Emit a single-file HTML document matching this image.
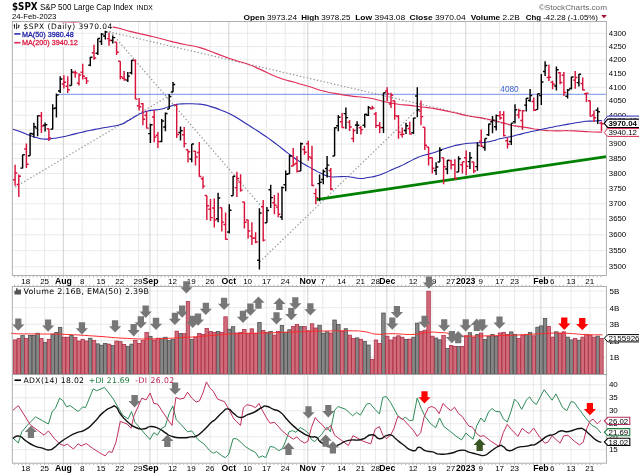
<!DOCTYPE html>
<html lang="en"><head><meta charset="utf-8"><title>$SPX S&amp;P 500 Large Cap Index</title>
<style>html,body{margin:0;padding:0;background:#fff;}svg{display:block;will-change:transform;}</style></head><body>
<svg width="639" height="476" viewBox="0 0 639 476">
<rect width="639" height="476" fill="#fff"/>
<text x="12" y="10" font-family="'DejaVu Sans', Verdana, sans-serif" font-size="9.8" font-weight="bold" textLength="25.6" lengthAdjust="spacingAndGlyphs">$SPX</text>
<text x="40" y="9.9" font-family="'Liberation Sans', Arial, sans-serif" font-size="8.7" font-weight="normal" fill="#000" text-anchor="start" textLength="92.8" lengthAdjust="spacingAndGlyphs" >S&amp;P 500 Large Cap Index</text>
<text x="136.6" y="9.8" font-family="'Liberation Sans', Arial, sans-serif" font-size="6.8" font-weight="normal" fill="#000" text-anchor="start" textLength="16.3" lengthAdjust="spacingAndGlyphs" >INDX</text>
<text x="12" y="19.2" font-family="'Liberation Sans', Arial, sans-serif" font-size="7.8" font-weight="normal" fill="#000" text-anchor="start" textLength="44.4" lengthAdjust="spacingAndGlyphs" >24-Feb-2023</text>
<text x="607" y="9.6" font-family="'Liberation Sans', Arial, sans-serif" font-size="8" font-weight="normal" fill="#666" text-anchor="end" textLength="68.3" lengthAdjust="spacingAndGlyphs" >&#169;StockCharts.com</text>
<text x="243.5" y="19.8" font-family="'Liberation Sans', Arial, sans-serif" font-size="8" textLength="53.5" lengthAdjust="spacingAndGlyphs"><tspan font-weight="bold">Open</tspan> 3973.24</text>
<text x="301.3" y="19.8" font-family="'Liberation Sans', Arial, sans-serif" font-size="8" textLength="49.1" lengthAdjust="spacingAndGlyphs"><tspan font-weight="bold">High</tspan> 3978.25</text>
<text x="355.2" y="19.8" font-family="'Liberation Sans', Arial, sans-serif" font-size="8" textLength="50" lengthAdjust="spacingAndGlyphs"><tspan font-weight="bold">Low</tspan> 3943.08</text>
<text x="409.6" y="19.8" font-family="'Liberation Sans', Arial, sans-serif" font-size="8" textLength="56.1" lengthAdjust="spacingAndGlyphs"><tspan font-weight="bold">Close</tspan> 3970.04</text>
<text x="470.8" y="19.8" font-family="'Liberation Sans', Arial, sans-serif" font-size="8" textLength="48.9" lengthAdjust="spacingAndGlyphs"><tspan font-weight="bold">Volume</tspan> 2.2B</text>
<text x="525.7" y="19.8" font-family="'Liberation Sans', Arial, sans-serif" font-size="8" textLength="72.3" lengthAdjust="spacingAndGlyphs"><tspan font-weight="bold">Chg</tspan> -42.28 (-1.05%)</text>
<polygon points="601.2,15 606.8,15 604,18.2" fill="#a01030"/>
<clipPath id="cm"><rect x="12.3" y="21.5" width="594.1" height="254"/></clipPath>
<g stroke="#e4e4e4" stroke-width="0.8" fill="none">
<path d="M25.8 21.5V275.5"/>
<path d="M44.6 21.5V275.5"/>
<path d="M82.2 21.5V275.5"/>
<path d="M101 21.5V275.5"/>
<path d="M119.8 21.5V275.5"/>
<path d="M138.6 21.5V275.5"/>
<path d="M157.4 21.5V275.5"/>
<path d="M172.4 21.5V275.5"/>
<path d="M191.2 21.5V275.5"/>
<path d="M210 21.5V275.5"/>
<path d="M247.6 21.5V275.5"/>
<path d="M266.4 21.5V275.5"/>
<path d="M285.2 21.5V275.5"/>
<path d="M304 21.5V275.5"/>
<path d="M322.8 21.5V275.5"/>
<path d="M341.6 21.5V275.5"/>
<path d="M360.4 21.5V275.5"/>
<path d="M375.5 21.5V275.5"/>
<path d="M394.3 21.5V275.5"/>
<path d="M413.1 21.5V275.5"/>
<path d="M431.9 21.5V275.5"/>
<path d="M450.7 21.5V275.5"/>
<path d="M480.8 21.5V275.5"/>
<path d="M499.6 21.5V275.5"/>
<path d="M514.6 21.5V275.5"/>
<path d="M533.4 21.5V275.5"/>
<path d="M552.2 21.5V275.5"/>
<path d="M571 21.5V275.5"/>
<path d="M589.8 21.5V275.5"/>
<path d="M12.3 266.7H606.4"/>
<path d="M12.3 250.6H606.4"/>
<path d="M12.3 234.8H606.4"/>
<path d="M12.3 219.1H606.4"/>
<path d="M12.3 203.7H606.4"/>
<path d="M12.3 188.5H606.4"/>
<path d="M12.3 173.5H606.4"/>
<path d="M12.3 158.6H606.4"/>
<path d="M12.3 144H606.4"/>
<path d="M12.3 129.6H606.4"/>
<path d="M12.3 115.3H606.4"/>
<path d="M12.3 101.2H606.4"/>
<path d="M12.3 87.3H606.4"/>
<path d="M12.3 73.6H606.4"/>
<path d="M12.3 60H606.4"/>
<path d="M12.3 46.6H606.4"/>
<path d="M12.3 33.3H606.4"/>
</g>
<g stroke="#c8c8c8" stroke-width="0.8" fill="none">
<path d="M63.4 21.5V275.5"/>
<path d="M149.9 21.5V275.5"/>
<path d="M228.8 21.5V275.5"/>
<path d="M307.8 21.5V275.5"/>
<path d="M386.8 21.5V275.5"/>
<path d="M465.7 21.5V275.5"/>
<path d="M540.9 21.5V275.5"/>
</g>
<g clip-path="url(#cm)">
<path d="M58 94.3H606.4" stroke="#5b7fe0" stroke-width="0.85" fill="none"/>
<path d="M15.2 187L173.2 93.3" stroke="#8c8c8c" stroke-width="1.15" fill="none" stroke-dasharray="1.3 2.2"/>
<path d="M105.5 26.2L260.5 205.5" stroke="#8c8c8c" stroke-width="1.15" fill="none" stroke-dasharray="1.3 2.2"/>
<path d="M259.8 261.8L417.9 109.1" stroke="#8c8c8c" stroke-width="1.15" fill="none" stroke-dasharray="1.3 2.2"/>
<path d="M105.5 31L523 128" stroke="#8c8c8c" stroke-width="1.15" fill="none" stroke-dasharray="1.3 2.2"/>
<path d="M12 17C25.67 18.43 33.67 19.53 53 21.3C72.33 23.07 57.67 21.27 70 22.3C82.33 23.33 75.70 22.80 90 24.4C104.30 26.00 99.57 24.77 112.9 27.1C126.23 29.43 117.10 28.30 130 31.4C142.90 34.50 139.93 33.63 151.6 36.4C163.27 39.17 156.37 37.53 165 39.7C173.63 41.87 169.50 41.03 177.5 42.9C185.50 44.77 181.50 43.73 189 45.3C196.50 46.87 190.60 44.73 200 47.6C209.40 50.47 205.73 49.77 217.2 53.9C228.67 58.03 224.07 56.53 234.4 60C244.73 63.47 239.60 61.17 248.2 64.3C256.80 67.43 250.43 65.10 260.2 69.4C269.97 73.70 266.00 72.90 277.5 77.2C289.00 81.50 287.20 80.03 294.7 82.3C302.20 84.57 294.90 82.50 300 84C305.10 85.50 302.53 84.53 310 86.8C317.47 89.07 314.07 88.60 322.4 90.8C330.73 93.00 326.40 91.80 335 93.4C343.60 95.00 340.53 94.47 348.2 95.6C355.87 96.73 351.13 96.00 358 96.8C364.87 97.60 362.13 96.93 368.8 98C375.47 99.07 372.23 98.67 378 100C383.77 101.33 379.43 100.60 386.1 102C392.77 103.40 390.03 103.07 398 104.2C405.97 105.33 402.00 104.47 410 105.4C418.00 106.33 413.87 105.93 422 107C430.13 108.07 424.73 106.93 434.4 108.6C444.07 110.27 439.53 109.53 451 112C462.47 114.47 459.13 114.13 468.8 116C478.47 117.87 473.10 116.40 480 117.6C486.90 118.80 484.43 118.53 489.5 119.6C494.57 120.67 490.70 119.70 495.2 120.8C499.70 121.90 497.53 121.43 503 122.9C508.47 124.37 506.87 124.13 511.6 125.2C516.33 126.27 513.43 125.53 517.2 126.1C520.97 126.67 517.63 126.03 522.9 126.9C528.17 127.77 526.30 127.60 533 128.7C539.70 129.80 536.80 129.50 543 130.2C549.20 130.90 545.93 130.60 551.6 130.8C557.27 131.00 554.27 130.83 560 130.8C565.73 130.77 562.80 130.60 568.8 130.7C574.80 130.80 572.27 130.80 578 131.1C583.73 131.40 580.67 131.30 586 131.6C591.33 131.90 588.83 131.80 594 132C599.17 132.20 599.00 132.13 601.5 132.2" fill="none" stroke="#de3058" stroke-width="1.15" stroke-linejoin="round" stroke-linecap="round"/>
<path d="M12.8 129.2C15.20 129.97 14.27 129.40 20 131.5C25.73 133.60 24.00 133.33 30 135.5C36.00 137.67 33.00 136.80 38 138C43.00 139.20 39.67 139.00 45 139.1C50.33 139.20 47.97 139.07 54 138.3C60.03 137.53 57.10 138.03 63.1 136.8C69.10 135.57 65.70 136.13 72 134.6C78.30 133.07 75.67 133.67 82 132.2C88.33 130.73 84.67 131.53 91 130.2C97.33 128.87 94.67 129.33 101 128.2C107.33 127.07 103.43 128.07 110 126.8C116.57 125.53 114.70 126.40 120.7 124.4C126.70 122.40 122.90 123.60 128 120.8C133.10 118.00 131.00 118.80 136 116C141.00 113.20 138.00 114.27 143 112.4C148.00 110.53 145.27 111.43 151 110.4C156.73 109.37 154.53 110.43 160.2 109.3C165.87 108.17 162.83 108.57 168 107C173.17 105.43 171.03 105.63 175.7 104.6C180.37 103.57 177.40 104.17 182 103.9C186.60 103.63 184.50 103.77 189.5 103.8C194.50 103.83 192.40 103.73 197 104C201.60 104.27 198.97 103.80 203.3 104.6C207.63 105.40 204.43 104.67 210 106.4C215.57 108.13 212.67 106.93 220 109.8C227.33 112.67 223.67 110.60 232 115C240.33 119.40 236.97 118.00 245 123C253.03 128.00 249.77 125.90 256.1 130C262.43 134.10 258.53 131.57 264 135.3C269.47 139.03 266.50 136.80 272.5 141.2C278.50 145.60 275.70 143.63 282 148.5C288.30 153.37 285.40 151.37 291.4 155.8C297.40 160.23 295.13 158.63 300 161.8C304.87 164.97 301.40 162.70 306 165.3C310.60 167.90 308.80 166.93 313.8 169.6C318.80 172.27 315.83 171.00 321 173.3C326.17 175.60 323.97 175.33 329.3 176.5C334.63 177.67 331.87 176.80 337 176.8C342.13 176.80 339.70 176.33 344.7 176.5C349.70 176.67 346.83 176.63 352 177.3C357.17 177.97 354.87 178.43 360.2 178.5C365.53 178.57 362.83 178.30 368 177.5C373.17 176.70 370.37 177.50 375.7 176.1C381.03 174.70 378.27 175.60 384 173.3C389.73 171.00 387.57 171.53 392.9 169.2C398.23 166.87 394.97 168.60 400 166.3C405.03 164.00 402.27 165.17 408 162.3C413.73 159.43 411.53 160.13 417.2 157.7C422.87 155.27 419.27 156.73 425 155C430.73 153.27 428.40 154.40 434.4 152.5C440.40 150.60 437.27 151.30 443 149.3C448.73 147.30 445.93 148.07 451.6 146.5C457.27 144.93 454.27 145.67 460 144.6C465.73 143.53 462.80 143.90 468.8 143.3C474.80 142.70 472.27 143.17 478 142.8C483.73 142.43 481.00 142.87 486 142.2C491.00 141.53 488.40 141.93 493 140.8C497.60 139.67 494.13 140.13 499.8 138.8C505.47 137.47 503.93 138.13 510 136.8C516.07 135.47 512.17 136.23 518 134.8C523.83 133.37 520.17 134.17 527.5 132.5C534.83 130.83 531.97 131.53 540 129.8C548.03 128.07 544.27 128.80 551.6 127.3C558.93 125.80 555.10 126.57 562 125.3C568.90 124.03 566.30 124.53 572.3 123.5C578.30 122.47 575.43 122.93 580 122.2C584.57 121.47 581.33 121.70 586 121.3C590.67 120.90 588.83 121.27 594 121C599.17 120.73 599.00 120.67 601.5 120.5" fill="none" stroke="#2b2bb0" stroke-width="1.1" stroke-linejoin="round" stroke-linecap="round"/>
<path d="M316.4 199.6L606.4 156.6" stroke="#008000" stroke-width="2.8" fill="none"/>
<path d="M22.6 154.8V168.4M20.4 168.1H22.6M22.6 154.8H24.8M30.1 132.7V155.7M27.9 155.7H30.1M30.1 133.4H32.3M33.9 122.7V137.6M31.7 133.9H33.9M33.9 126.7H36.1M37.6 115.6V136.2M35.4 128.1H37.6M37.6 115.6H39.8M45.1 122.4V131.6M42.9 125.3H45.1M45.1 124.7H47.3M52.7 104.3V129.3M50.5 129.3H52.7M52.7 108.6H54.9M56.4 93.4V117.6M54.2 108H56.4M56.4 95H58.6M60.2 76.3V93.1M58 90.9H60.2M60.2 79H62.4M71.5 68.9V85.4M69.3 85.4H71.5M71.5 72.1H73.7M90.3 57V66.2M88.1 65.1H90.3M90.3 57.2H92.5M97.8 38.6V54.9M95.6 53.3H97.8M97.8 38.5H100M101.5 33V45M99.3 41.5H101.5M101.5 34.1H103.7M105.3 26.7V39.4M103.1 35.9H105.3M105.3 31.9H107.5M112.8 35.4V43.6M110.6 40.4H112.8M112.8 37.6H115M127.8 71.9V82.1M125.6 80.1H127.8M127.8 76.1H130M131.6 60V74.4M129.4 72.7H131.6M131.6 60.2H133.8M150.4 123.8V143.1M148.2 133.6H150.4M150.4 124.7H152.6M161.7 119V142.3M159.5 141.4H161.7M161.7 121H163.9M165.4 112.5V131.3M163.2 127H165.4M165.4 113.5H167.6M169.2 94V109.1M167 109.1H169.2M169.2 96.4H171.4M173 82.1V92M170.8 92H173M173 84.4H175.2M180.5 126.4V140.5M178.3 132.4H180.5M180.5 130.7H182.7M191.7 144V162.2M189.5 158.9H191.7M191.7 144H193.9M218.1 192.7V222.2M215.9 218.8H218.1M218.1 197.9H220.3M229.3 204.3V233.5M227.1 231.9H229.3M229.3 210.3H231.5M233.1 176.1V195.8M230.9 195.8H233.1M233.1 176.2H235.3M259.4 208.3V269.4M257.2 260.2H259.4M259.4 212.9H261.6M266.9 207.1V222.8M264.7 222.8H266.9M266.9 210.5H269.1M270.7 184.8V208M268.5 189.7H270.7M270.7 197.6H272.9M282 186.4V220M279.8 216.9H282M282 187.6H284.2M285.7 170.5V191.2M283.5 184.8H285.7M285.7 174.2H287.9M289.5 155.1V173.8M287.3 173.8H289.5M289.5 156H291.7M300.8 142.5V171.1M298.6 171.1H300.8M300.8 143.7H303M319.6 174.6V201.2M317.4 183.6H319.6M319.6 182.3H321.8M323.3 169.6V184.2M321.1 179.4H323.3M323.3 171.4H325.5M327.1 156V177.6M324.9 168.4H327.1M327.1 165.1H329.3M334.6 127.3V156M332.4 156H334.6M334.6 127.7H336.8M338.3 115V131.3M336.1 125.8H338.3M338.3 117.3H340.5M345.9 107.4V128.7M343.7 113.6H345.9M345.9 117.6H348.1M357.1 121.3V133.9M354.9 125H357.1M357.1 125.2H359.3M364.7 113.9V127.8M362.5 125.3H364.7M364.7 114.3H366.9M368.4 106V115.9M366.2 115.3H368.4M368.4 107.6H370.6M383.5 92.8V133M381.3 127.6H383.5M383.5 92.8H385.7M406 122.7V133.9M403.8 130.4H406M406 125.7H408.2M413.5 118.1V133.9M411.3 132.7H413.5M413.5 118H415.7M417.3 87.3V117.3M415.1 95.9H417.3M417.3 109.7H419.5M436.1 162.2V174.9M433.9 170.5H436.1M436.1 167H438.3M439.8 147.2V161.9M437.6 161.9H439.8M439.8 150.3H442M447.4 160.1V174.3M445.2 169H447.4M447.4 160.2H449.6M458.6 156.3V172M456.4 172H458.6M458.6 158.8H460.8M469.9 151.9V169M467.7 161.6H469.9M469.9 157.8H472.1M477.4 142.3V170.8M475.2 166.6H477.4M477.4 145.4H479.6M484.9 138.5V150.7M482.7 147.5H484.9M484.9 138.4H487.1M488.7 123.8V135.9M486.5 134.7H488.7M488.7 123.9H490.9M492.5 116.1V133.3M490.3 121.8H492.5M492.5 120.1H494.7M496.2 114.4V130.4M494 126.7H496.2M496.2 115.6H498.4M511.3 123.3V144.9M509.1 141.4H511.3M511.3 123.1H513.5M515 104.3V123.5M512.8 121.6H515M515 109.7H517.2M526.3 98.1V111.6M524.1 105.1H526.3M526.3 98.3H528.5M530.1 89V101.8M527.9 100.4H530.1M530.1 95.5H532.3M537.6 93.7V109.6M535.4 109.6H537.6M537.6 93.8H539.8M541.3 74.1V104.9M539.1 95.6H541.3M541.3 82H543.5M545.1 61.3V76M542.9 71.4H545.1M545.1 65.5H547.3M556.4 66.5V90.6M554.2 85.9H556.4M556.4 69.7H558.6M567.6 89V98.4M565.4 96.2H567.6M567.6 89.9H569.8M571.4 76.8V89.5M569.2 88.4H571.4M571.4 77H573.6M578.9 74.1V86.5M576.7 82.6H578.9M578.9 74.2H581.1M597.7 107.4V124.1M595.5 110.2H597.7M597.7 111.8H599.9" stroke="#000000" stroke-width="1.45" fill="none"/>
<path d="M15.1 164.8V185.8M12.9 179.7H15.1M15.1 172.9H17.3M18.8 174.6V197.1M16.6 184.5H18.8M18.8 176.3H21M26.4 143.4V168.1M24.2 149H26.4M26.4 164.3H28.6M41.4 111.9V133M39.2 115.9H41.4M41.4 126.2H43.6M48.9 128.7V141.1M46.7 128.7H48.9M48.9 137.9H51.1M63.9 75.2V88.4M61.7 84H63.9M63.9 82.2H66.1M67.7 76.3V93.1M65.5 86.2H67.7M67.7 89.7H69.9M75.2 70.6V77.7M73 72.5H75.2M75.2 73H77.4M79 73.3V85.4M76.8 83.2H79M79 74.9H81.2M82.7 63.8V79.6M80.5 72.2H82.7M82.7 76.3H84.9M86.5 77.1V84M84.3 78.2H86.5M86.5 81.1H88.7M94 44.7V59.7M91.8 52.7H94M94 58H96.2M109 32.8V45.8M106.8 38.6H109M109 40.2H111.2M116.6 42.3V55.1M114.4 42.3H116.6M116.6 52.3H118.8M120.3 61.3V79.3M118.1 61.3H120.3M120.3 76.8H122.5M124.1 71.1V80.7M121.9 78.2H124.1M124.1 79.4H126.3M135.4 59.2V99.3M133.2 60.5H135.4M135.4 99.1H137.6M139.1 97.9V110.5M136.9 105.7H139.1M139.1 106.7H141.3M142.9 102.9V125.3M140.7 103.7H142.9M142.9 119.2H145.1M146.6 111.1V128.4M144.4 115.3H146.6M146.6 128.1H148.8M154.2 110.2V142.3M152 117H154.2M154.2 137H156.4M157.9 131.9V148.1M155.7 135.3H157.9M157.9 141.6H160.1M176.7 104.9V137.9M174.5 104.9H176.7M176.7 134.5H178.9M184.2 127V147.5M182 134.7H184.2M184.2 143.6H186.4M188 149.8V162.5M185.8 149.8H188M188 151.8H190.2M195.5 151V165.4M193.3 151.3H195.5M195.5 156.9H197.7M199.3 142V176.7M197.1 152.5H199.3M199.3 176.5H201.5M203 176.4V188.8M200.8 178.8H203M203 186.1H205.2M206.8 195.4V220M204.6 195.4H206.8M206.8 205.8H209M210.5 199.1V221M208.3 209.2H210.5M210.5 217.6H212.7M214.3 198.5V227.5M212.1 208H214.3M214.3 220H216.5M221.8 207.7V231.6M219.6 207.7H221.8M221.8 222.1H224M225.6 212.6V239.8M223.4 224.4H225.6M225.6 239.3H227.8M236.9 171.7V197M234.7 187.6H236.9M236.9 178.5H239.1M240.6 174.3V191.8M238.4 182.1H240.6M240.6 190.1H242.8M244.4 201.9V228.5M242.2 201.9H244.4M244.4 222.3H246.6M248.1 219.7V238.5M245.9 220H248.1M248.1 230.9H250.3M251.9 222.2V244.9M249.7 236.3H251.9M251.9 238.3H254.1M255.6 232.2V243.3M253.4 237.9H255.6M255.6 242H257.8M263.2 200V241.4M261 206.8H263.2M263.2 240.1H265.4M274.4 195.1V214.2M272.2 202.8H274.4M274.4 205.2H276.6M278.2 192.7V217.3M276 207.1H278.2M278.2 214.2H280.4M293.2 148.1V166.3M291 166H293.2M293.2 164.4H295.4M297 156V172.6M294.8 163.4H297M297 171.3H299.2M304.5 146V154.8M302.3 149.5H304.5M304.5 152.2H306.7M308.3 140.8V160.7M306.1 143.7H308.3M308.3 156.8H310.5M312 145.7V186.1M309.8 158H312M312 185.5H314.2M315.8 188.5V204.3M313.6 193.6H315.8M315.8 197.6H318M330.8 168.1V190.3M328.6 170.5H330.8M330.8 188.9H333M342.1 113V127.8M339.9 121.8H342.1M342.1 127.5H344.3M349.6 120.1V131M347.4 122.1H349.6M349.6 127H351.8M353.4 128.4V142.3M351.2 138.5H353.4M353.4 130.5H355.6M360.9 126.1V134.4M358.7 127.8H360.9M360.9 129.6H363.1M372.2 105.7V109.6M370 108.8H372.2M372.2 107.9H374.4M375.9 111.9V128.1M373.7 113.9H375.9M375.9 125.6H378.1M379.7 122.1V133.3M377.5 125.5H379.7M379.7 127.4H381.9M387.2 87.3V101.2M385 90.9H387.2M387.2 93.8H389.4M391 92.8V108M388.8 104H391M391 95.2H393.2M394.7 100.7V119.8M392.5 100.7H394.7M394.7 115.6H396.9M398.5 115V138.8M396.3 116.4H398.5M398.5 132.1H400.7M402.2 127.6V137.6M400.1 134.4H402.2M402.2 134.2H404.4M409.8 121.8V134.4M407.6 128.4H409.8M409.8 134.1H412M421 100.4V125.3M418.8 111.1H421M421 116.6H423.2M424.8 127.3V150.1M422.6 127.3H424.8M424.8 145.2H427M428.6 146.9V165.4M426.4 146.9H428.6M428.6 157.9H430.8M432.3 157.5V173.5M430.1 157.7H432.3M432.3 168.2H434.5M443.6 157.7V184.2M441.4 157.7H443.6M443.6 166.8H445.8M451.1 159.8V169.6M448.9 160.7H451.1M451.1 164.8H453.3M454.9 159.2V179.4M452.7 164.8H454.9M454.9 178.5H457.1M462.4 161.9V173.5M460.2 164.8H462.4M462.4 161.7H464.6M466.2 150.4V175.2M464 157.7H466.2M466.2 166.3H468.4M473.7 161.9V172.9M471.5 161.9H473.7M473.7 171H475.9M481.2 129.6V146.9M479 141.1H481.2M481.2 146.3H483.4M500 111.1V119.8M497.8 115.6H500M500 117.9H502.2M503.7 111.3V136.5M501.5 114.7H503.7M503.7 135.6H505.9M507.5 137.6V148.4M505.3 140.8H507.5M507.5 144.3H509.7M518.8 108.8V118.4M516.6 115H518.8M518.8 110.5H521M522.5 109.9V129.8M520.3 120.4H522.5M522.5 110.7H524.7M533.8 97.6V111.1M531.6 101.5H533.8M533.8 110.3H536M548.9 64.8V81M546.7 77.4H548.9M548.9 77.3H551.1M552.6 80.7V89.2M550.4 82.1H552.6M552.6 84.2H554.8M560.1 71.9V84.3M557.9 72.7H560.1M560.1 82.4H562.3M563.9 71.9V95.9M561.7 75.2H563.9M563.9 92.4H566.1M575.2 71.1V88.7M573 80.1H575.2M575.2 77.4H577.4M582.7 77.4V90.3M580.5 83.4H582.7M582.7 90H584.9M586.4 92.6V102.1M584.2 93.7H586.4M586.4 93.1H588.6M590.2 100.7V116.7M588 100.7H590.2M590.2 116.1H592.4M594 110.5V122.1M591.8 115H594M594 117.8H596.2M601.5 121.5V131.5M599.3 122.9H601.5M601.5 123.8H603.7" stroke="#d9143c" stroke-width="1.45" fill="none"/>
</g>
<rect x="12.3" y="21.5" width="594.1" height="254" fill="none" stroke="#a6a6a6" stroke-width="0.9"/>
<text x="500.3" y="92.4" font-family="'Liberation Sans', Arial, sans-serif" font-size="8.6" font-weight="normal" fill="#3a5fd0" text-anchor="start" textLength="18.4" lengthAdjust="spacingAndGlyphs" >4080</text>
<rect x="13" y="22.6" width="99.6" height="8.2" fill="#fff"/>
<rect x="13" y="30.8" width="61.5" height="7.6" fill="#fff"/>
<rect x="13" y="38.4" width="66" height="8.2" fill="#fff"/>
<path d="M14.5 24.2V28.6M16.6 23.2V29.2M18.7 24.8V28.2M13.6 25.5H14.5M16.6 27.6H17.5M18.7 25.6H19.6" stroke="#000" stroke-width="0.8" fill="none"/>
<text x="23.6" y="29.1" font-family="'DejaVu Sans', Verdana, sans-serif" font-size="7.5" font-weight="normal" fill="#000" text-anchor="start" textLength="88.7" lengthAdjust="spacing" >$SPX (Daily) 3970.04</text>
<path d="M14.3 33.9H20.5" stroke="#2b2bb0" stroke-width="1.6"/>
<text x="22" y="36.6" font-family="'Liberation Sans', Arial, sans-serif" font-size="7.4" font-weight="normal" fill="#2424a8" text-anchor="start" textLength="51.7" lengthAdjust="spacingAndGlyphs" stroke="#2424a8" stroke-width="0.3">MA(50) 3980.48</text>
<path d="M14.3 42.7H20.5" stroke="#dc2850" stroke-width="1.6"/>
<text x="22" y="45.4" font-family="'Liberation Sans', Arial, sans-serif" font-size="7.4" font-weight="normal" fill="#dc1e46" text-anchor="start" textLength="55.7" lengthAdjust="spacingAndGlyphs" stroke="#dc1e46" stroke-width="0.3">MA(200) 3940.12</text>
<text x="608.8" y="268.9" font-family="'Liberation Sans', Arial, sans-serif" font-size="8" font-weight="normal" fill="#000" text-anchor="start" textLength="17.4" lengthAdjust="spacingAndGlyphs" >3500</text>
<text x="608.8" y="252.8" font-family="'Liberation Sans', Arial, sans-serif" font-size="8" font-weight="normal" fill="#000" text-anchor="start" textLength="17.4" lengthAdjust="spacingAndGlyphs" >3550</text>
<text x="608.8" y="237" font-family="'Liberation Sans', Arial, sans-serif" font-size="8" font-weight="normal" fill="#000" text-anchor="start" textLength="17.4" lengthAdjust="spacingAndGlyphs" >3600</text>
<text x="608.8" y="221.3" font-family="'Liberation Sans', Arial, sans-serif" font-size="8" font-weight="normal" fill="#000" text-anchor="start" textLength="17.4" lengthAdjust="spacingAndGlyphs" >3650</text>
<text x="608.8" y="205.9" font-family="'Liberation Sans', Arial, sans-serif" font-size="8" font-weight="normal" fill="#000" text-anchor="start" textLength="17.4" lengthAdjust="spacingAndGlyphs" >3700</text>
<text x="608.8" y="190.7" font-family="'Liberation Sans', Arial, sans-serif" font-size="8" font-weight="normal" fill="#000" text-anchor="start" textLength="17.4" lengthAdjust="spacingAndGlyphs" >3750</text>
<text x="608.8" y="175.7" font-family="'Liberation Sans', Arial, sans-serif" font-size="8" font-weight="normal" fill="#000" text-anchor="start" textLength="17.4" lengthAdjust="spacingAndGlyphs" >3800</text>
<text x="608.8" y="160.8" font-family="'Liberation Sans', Arial, sans-serif" font-size="8" font-weight="normal" fill="#000" text-anchor="start" textLength="17.4" lengthAdjust="spacingAndGlyphs" >3850</text>
<text x="608.8" y="146.2" font-family="'Liberation Sans', Arial, sans-serif" font-size="8" font-weight="normal" fill="#000" text-anchor="start" textLength="17.4" lengthAdjust="spacingAndGlyphs" >3900</text>
<text x="608.8" y="131.8" font-family="'Liberation Sans', Arial, sans-serif" font-size="8" font-weight="normal" fill="#000" text-anchor="start" textLength="17.4" lengthAdjust="spacingAndGlyphs" >3950</text>
<text x="608.8" y="117.5" font-family="'Liberation Sans', Arial, sans-serif" font-size="8" font-weight="normal" fill="#000" text-anchor="start" textLength="17.4" lengthAdjust="spacingAndGlyphs" >4000</text>
<text x="608.8" y="103.4" font-family="'Liberation Sans', Arial, sans-serif" font-size="8" font-weight="normal" fill="#000" text-anchor="start" textLength="17.4" lengthAdjust="spacingAndGlyphs" >4050</text>
<text x="608.8" y="89.5" font-family="'Liberation Sans', Arial, sans-serif" font-size="8" font-weight="normal" fill="#000" text-anchor="start" textLength="17.4" lengthAdjust="spacingAndGlyphs" >4100</text>
<text x="608.8" y="75.8" font-family="'Liberation Sans', Arial, sans-serif" font-size="8" font-weight="normal" fill="#000" text-anchor="start" textLength="17.4" lengthAdjust="spacingAndGlyphs" >4150</text>
<text x="608.8" y="62.2" font-family="'Liberation Sans', Arial, sans-serif" font-size="8" font-weight="normal" fill="#000" text-anchor="start" textLength="17.4" lengthAdjust="spacingAndGlyphs" >4200</text>
<text x="608.8" y="48.8" font-family="'Liberation Sans', Arial, sans-serif" font-size="8" font-weight="normal" fill="#000" text-anchor="start" textLength="17.4" lengthAdjust="spacingAndGlyphs" >4250</text>
<text x="608.8" y="35.5" font-family="'Liberation Sans', Arial, sans-serif" font-size="8" font-weight="normal" fill="#000" text-anchor="start" textLength="17.4" lengthAdjust="spacingAndGlyphs" >4300</text>
<path d="M604.2 120.3L607.6 116.1H639.5V124.5H607.6Z" fill="#fff" stroke="#2b2bb0" stroke-width="1.0"/>
<text x="608.4" y="123.2" font-family="'Liberation Sans', Arial, sans-serif" font-size="8" font-weight="normal" fill="#2b2bb0" text-anchor="start" textLength="28.6" lengthAdjust="spacingAndGlyphs" >3980.48</text>
<path d="M604.2 132.5L607.6 128.6H639.5V136.4H607.6Z" fill="#fff" stroke="#dc2850" stroke-width="1.0"/>
<text x="608.4" y="135.4" font-family="'Liberation Sans', Arial, sans-serif" font-size="8" font-weight="normal" fill="#000" text-anchor="start" textLength="28.6" lengthAdjust="spacingAndGlyphs" >3940.12</text>
<path d="M604.2 123.3L607.6 119.1H639.5V127.5H607.6Z" fill="#fff" stroke="#000" stroke-width="1.2"/>
<text x="608.4" y="126.2" font-family="'Liberation Sans', Arial, sans-serif" font-size="8" font-weight="bold" fill="#000" text-anchor="start" textLength="28.6" lengthAdjust="spacingAndGlyphs" >3970.04</text>
<path d="M14.5 276V277.4M18.3 276V277.4M22 276V277.4M25.8 276V277.4M29.6 276V277.4M33.3 276V277.4M37.1 276V277.4M40.8 276V277.4M44.6 276V277.4M48.4 276V277.4M52.1 276V277.4M55.9 276V277.4M59.6 276V277.4M63.4 276V277.4M67.1 276V277.4M70.9 276V277.4M74.7 276V277.4M78.4 276V277.4M82.2 276V277.4M85.9 276V277.4M89.7 276V277.4M93.5 276V277.4M97.2 276V277.4M101 276V277.4M104.7 276V277.4M108.5 276V277.4M112.3 276V277.4M116 276V277.4M119.8 276V277.4M123.5 276V277.4M127.3 276V277.4M131.1 276V277.4M134.8 276V277.4M138.6 276V277.4M142.3 276V277.4M146.1 276V277.4M149.8 276V277.4M153.6 276V277.4M157.4 276V277.4M161.1 276V277.4M164.9 276V277.4M168.6 276V277.4M172.4 276V277.4M176.2 276V277.4M179.9 276V277.4M183.7 276V277.4M187.4 276V277.4M191.2 276V277.4M195 276V277.4M198.7 276V277.4M202.5 276V277.4M206.2 276V277.4M210 276V277.4M213.7 276V277.4M217.5 276V277.4M221.3 276V277.4M225 276V277.4M228.8 276V277.4M232.5 276V277.4M236.3 276V277.4M240.1 276V277.4M243.8 276V277.4M247.6 276V277.4M251.3 276V277.4M255.1 276V277.4M258.9 276V277.4M262.6 276V277.4M266.4 276V277.4M270.1 276V277.4M273.9 276V277.4M277.7 276V277.4M281.4 276V277.4M285.2 276V277.4M288.9 276V277.4M292.7 276V277.4M296.4 276V277.4M300.2 276V277.4M304 276V277.4M307.7 276V277.4M311.5 276V277.4M315.2 276V277.4M319 276V277.4M322.8 276V277.4M326.5 276V277.4M330.3 276V277.4M334 276V277.4M337.8 276V277.4M341.6 276V277.4M345.3 276V277.4M349.1 276V277.4M352.8 276V277.4M356.6 276V277.4M360.4 276V277.4M364.1 276V277.4M367.9 276V277.4M371.6 276V277.4M375.4 276V277.4M379.1 276V277.4M382.9 276V277.4M386.7 276V277.4M390.4 276V277.4M394.2 276V277.4M397.9 276V277.4M401.7 276V277.4M405.5 276V277.4M409.2 276V277.4M413 276V277.4M416.7 276V277.4M420.5 276V277.4M424.3 276V277.4M428 276V277.4M431.8 276V277.4M435.5 276V277.4M439.3 276V277.4M443 276V277.4M446.8 276V277.4M450.6 276V277.4M454.3 276V277.4M458.1 276V277.4M461.8 276V277.4M465.6 276V277.4M469.4 276V277.4M473.1 276V277.4M476.9 276V277.4M480.6 276V277.4M484.4 276V277.4M488.2 276V277.4M491.9 276V277.4M495.7 276V277.4M499.4 276V277.4M503.2 276V277.4M507 276V277.4M510.7 276V277.4M514.5 276V277.4M518.2 276V277.4M522 276V277.4M525.7 276V277.4M529.5 276V277.4M533.3 276V277.4M537 276V277.4M540.8 276V277.4M544.5 276V277.4M548.3 276V277.4M552.1 276V277.4M555.8 276V277.4M559.6 276V277.4M563.3 276V277.4M567.1 276V277.4M570.9 276V277.4M574.6 276V277.4M578.4 276V277.4M582.1 276V277.4M585.9 276V277.4M589.7 276V277.4M593.4 276V277.4M597.2 276V277.4M600.9 276V277.4" stroke="#b0b0b0" stroke-width="0.9" fill="none"/>
<path d="M14.5 284.8V286.2M18.3 284.8V286.2M22 284.8V286.2M25.8 284.8V286.2M29.6 284.8V286.2M33.3 284.8V286.2M37.1 284.8V286.2M40.8 284.8V286.2M44.6 284.8V286.2M48.4 284.8V286.2M52.1 284.8V286.2M55.9 284.8V286.2M59.6 284.8V286.2M63.4 284.8V286.2M67.1 284.8V286.2M70.9 284.8V286.2M74.7 284.8V286.2M78.4 284.8V286.2M82.2 284.8V286.2M85.9 284.8V286.2M89.7 284.8V286.2M93.5 284.8V286.2M97.2 284.8V286.2M101 284.8V286.2M104.7 284.8V286.2M108.5 284.8V286.2M112.3 284.8V286.2M116 284.8V286.2M119.8 284.8V286.2M123.5 284.8V286.2M127.3 284.8V286.2M131.1 284.8V286.2M134.8 284.8V286.2M138.6 284.8V286.2M142.3 284.8V286.2M146.1 284.8V286.2M149.8 284.8V286.2M153.6 284.8V286.2M157.4 284.8V286.2M161.1 284.8V286.2M164.9 284.8V286.2M168.6 284.8V286.2M172.4 284.8V286.2M176.2 284.8V286.2M179.9 284.8V286.2M183.7 284.8V286.2M187.4 284.8V286.2M191.2 284.8V286.2M195 284.8V286.2M198.7 284.8V286.2M202.5 284.8V286.2M206.2 284.8V286.2M210 284.8V286.2M213.7 284.8V286.2M217.5 284.8V286.2M221.3 284.8V286.2M225 284.8V286.2M228.8 284.8V286.2M232.5 284.8V286.2M236.3 284.8V286.2M240.1 284.8V286.2M243.8 284.8V286.2M247.6 284.8V286.2M251.3 284.8V286.2M255.1 284.8V286.2M258.9 284.8V286.2M262.6 284.8V286.2M266.4 284.8V286.2M270.1 284.8V286.2M273.9 284.8V286.2M277.7 284.8V286.2M281.4 284.8V286.2M285.2 284.8V286.2M288.9 284.8V286.2M292.7 284.8V286.2M296.4 284.8V286.2M300.2 284.8V286.2M304 284.8V286.2M307.7 284.8V286.2M311.5 284.8V286.2M315.2 284.8V286.2M319 284.8V286.2M322.8 284.8V286.2M326.5 284.8V286.2M330.3 284.8V286.2M334 284.8V286.2M337.8 284.8V286.2M341.6 284.8V286.2M345.3 284.8V286.2M349.1 284.8V286.2M352.8 284.8V286.2M356.6 284.8V286.2M360.4 284.8V286.2M364.1 284.8V286.2M367.9 284.8V286.2M371.6 284.8V286.2M375.4 284.8V286.2M379.1 284.8V286.2M382.9 284.8V286.2M386.7 284.8V286.2M390.4 284.8V286.2M394.2 284.8V286.2M397.9 284.8V286.2M401.7 284.8V286.2M405.5 284.8V286.2M409.2 284.8V286.2M413 284.8V286.2M416.7 284.8V286.2M420.5 284.8V286.2M424.3 284.8V286.2M428 284.8V286.2M431.8 284.8V286.2M435.5 284.8V286.2M439.3 284.8V286.2M443 284.8V286.2M446.8 284.8V286.2M450.6 284.8V286.2M454.3 284.8V286.2M458.1 284.8V286.2M461.8 284.8V286.2M465.6 284.8V286.2M469.4 284.8V286.2M473.1 284.8V286.2M476.9 284.8V286.2M480.6 284.8V286.2M484.4 284.8V286.2M488.2 284.8V286.2M491.9 284.8V286.2M495.7 284.8V286.2M499.4 284.8V286.2M503.2 284.8V286.2M507 284.8V286.2M510.7 284.8V286.2M514.5 284.8V286.2M518.2 284.8V286.2M522 284.8V286.2M525.7 284.8V286.2M529.5 284.8V286.2M533.3 284.8V286.2M537 284.8V286.2M540.8 284.8V286.2M544.5 284.8V286.2M548.3 284.8V286.2M552.1 284.8V286.2M555.8 284.8V286.2M559.6 284.8V286.2M563.3 284.8V286.2M567.1 284.8V286.2M570.9 284.8V286.2M574.6 284.8V286.2M578.4 284.8V286.2M582.1 284.8V286.2M585.9 284.8V286.2M589.7 284.8V286.2M593.4 284.8V286.2M597.2 284.8V286.2M600.9 284.8V286.2" stroke="#b0b0b0" stroke-width="0.9" fill="none"/>
<text x="25.8" y="283.7" font-family="'Liberation Sans', Arial, sans-serif" font-size="8" font-weight="normal" fill="#000" text-anchor="middle" >18</text>
<text x="44.6" y="283.7" font-family="'Liberation Sans', Arial, sans-serif" font-size="8" font-weight="normal" fill="#000" text-anchor="middle" >25</text>
<text x="63.4" y="283.7" font-family="'Liberation Sans', Arial, sans-serif" font-size="8.7" font-weight="bold" fill="#000" text-anchor="middle" >Aug</text>
<text x="82.2" y="283.7" font-family="'Liberation Sans', Arial, sans-serif" font-size="8" font-weight="normal" fill="#000" text-anchor="middle" >8</text>
<text x="101" y="283.7" font-family="'Liberation Sans', Arial, sans-serif" font-size="8" font-weight="normal" fill="#000" text-anchor="middle" >15</text>
<text x="119.8" y="283.7" font-family="'Liberation Sans', Arial, sans-serif" font-size="8" font-weight="normal" fill="#000" text-anchor="middle" >22</text>
<text x="137.9" y="283.7" font-family="'Liberation Sans', Arial, sans-serif" font-size="8" font-weight="normal" fill="#000" text-anchor="middle" >29</text>
<text x="150.5" y="283.7" font-family="'Liberation Sans', Arial, sans-serif" font-size="8.7" font-weight="bold" fill="#000" text-anchor="middle" >Sep</text>
<text x="172.4" y="283.7" font-family="'Liberation Sans', Arial, sans-serif" font-size="8" font-weight="normal" fill="#000" text-anchor="middle" >12</text>
<text x="191.2" y="283.7" font-family="'Liberation Sans', Arial, sans-serif" font-size="8" font-weight="normal" fill="#000" text-anchor="middle" >19</text>
<text x="210" y="283.7" font-family="'Liberation Sans', Arial, sans-serif" font-size="8" font-weight="normal" fill="#000" text-anchor="middle" >26</text>
<text x="228.8" y="283.7" font-family="'Liberation Sans', Arial, sans-serif" font-size="8.7" font-weight="bold" fill="#000" text-anchor="middle" >Oct</text>
<text x="247.6" y="283.7" font-family="'Liberation Sans', Arial, sans-serif" font-size="8" font-weight="normal" fill="#000" text-anchor="middle" >10</text>
<text x="266.4" y="283.7" font-family="'Liberation Sans', Arial, sans-serif" font-size="8" font-weight="normal" fill="#000" text-anchor="middle" >17</text>
<text x="285.2" y="283.7" font-family="'Liberation Sans', Arial, sans-serif" font-size="8" font-weight="normal" fill="#000" text-anchor="middle" >24</text>
<text x="307.8" y="283.7" font-family="'Liberation Sans', Arial, sans-serif" font-size="8.7" font-weight="bold" fill="#000" text-anchor="middle" >Nov</text>
<text x="322.8" y="283.7" font-family="'Liberation Sans', Arial, sans-serif" font-size="8" font-weight="normal" fill="#000" text-anchor="middle" >7</text>
<text x="341.6" y="283.7" font-family="'Liberation Sans', Arial, sans-serif" font-size="8" font-weight="normal" fill="#000" text-anchor="middle" >14</text>
<text x="360.4" y="283.7" font-family="'Liberation Sans', Arial, sans-serif" font-size="8" font-weight="normal" fill="#000" text-anchor="middle" >21</text>
<text x="375.5" y="283.7" font-family="'Liberation Sans', Arial, sans-serif" font-size="8" font-weight="normal" fill="#000" text-anchor="middle" >28</text>
<text x="387.3" y="283.7" font-family="'Liberation Sans', Arial, sans-serif" font-size="8.7" font-weight="bold" fill="#000" text-anchor="middle" >Dec</text>
<text x="413.1" y="283.7" font-family="'Liberation Sans', Arial, sans-serif" font-size="8" font-weight="normal" fill="#000" text-anchor="middle" >12</text>
<text x="431.9" y="283.7" font-family="'Liberation Sans', Arial, sans-serif" font-size="8" font-weight="normal" fill="#000" text-anchor="middle" >19</text>
<text x="450.7" y="283.7" font-family="'Liberation Sans', Arial, sans-serif" font-size="8" font-weight="normal" fill="#000" text-anchor="middle" >27</text>
<text x="465.7" y="283.7" font-family="'Liberation Sans', Arial, sans-serif" font-size="8.7" font-weight="bold" fill="#000" text-anchor="middle" >2023</text>
<text x="480.8" y="283.7" font-family="'Liberation Sans', Arial, sans-serif" font-size="8" font-weight="normal" fill="#000" text-anchor="middle" >9</text>
<text x="499.6" y="283.7" font-family="'Liberation Sans', Arial, sans-serif" font-size="8" font-weight="normal" fill="#000" text-anchor="middle" >17</text>
<text x="514.6" y="283.7" font-family="'Liberation Sans', Arial, sans-serif" font-size="8" font-weight="normal" fill="#000" text-anchor="middle" >23</text>
<text x="540.9" y="283.7" font-family="'Liberation Sans', Arial, sans-serif" font-size="8.7" font-weight="bold" fill="#000" text-anchor="middle" >Feb</text>
<text x="552.2" y="283.7" font-family="'Liberation Sans', Arial, sans-serif" font-size="8" font-weight="normal" fill="#000" text-anchor="middle" >6</text>
<text x="571" y="283.7" font-family="'Liberation Sans', Arial, sans-serif" font-size="8" font-weight="normal" fill="#000" text-anchor="middle" >13</text>
<text x="589.8" y="283.7" font-family="'Liberation Sans', Arial, sans-serif" font-size="8" font-weight="normal" fill="#000" text-anchor="middle" >21</text>
<g stroke="#e4e4e4" stroke-width="0.8" fill="none">
<path d="M25.8 286.5V374.5"/>
<path d="M44.6 286.5V374.5"/>
<path d="M82.2 286.5V374.5"/>
<path d="M101 286.5V374.5"/>
<path d="M119.8 286.5V374.5"/>
<path d="M138.6 286.5V374.5"/>
<path d="M157.4 286.5V374.5"/>
<path d="M172.4 286.5V374.5"/>
<path d="M191.2 286.5V374.5"/>
<path d="M210 286.5V374.5"/>
<path d="M247.6 286.5V374.5"/>
<path d="M266.4 286.5V374.5"/>
<path d="M285.2 286.5V374.5"/>
<path d="M304 286.5V374.5"/>
<path d="M322.8 286.5V374.5"/>
<path d="M341.6 286.5V374.5"/>
<path d="M360.4 286.5V374.5"/>
<path d="M375.5 286.5V374.5"/>
<path d="M394.3 286.5V374.5"/>
<path d="M413.1 286.5V374.5"/>
<path d="M431.9 286.5V374.5"/>
<path d="M450.7 286.5V374.5"/>
<path d="M480.8 286.5V374.5"/>
<path d="M499.6 286.5V374.5"/>
<path d="M514.6 286.5V374.5"/>
<path d="M533.4 286.5V374.5"/>
<path d="M552.2 286.5V374.5"/>
<path d="M571 286.5V374.5"/>
<path d="M589.8 286.5V374.5"/>
<path d="M12.3 357.3H606.4"/>
<path d="M12.3 340.8H606.4"/>
<path d="M12.3 324.2H606.4"/>
<path d="M12.3 307.6H606.4"/>
<path d="M12.3 291H606.4"/>
</g>
<g stroke="#c8c8c8" stroke-width="0.8" fill="none">
<path d="M63.4 286.5V374.5"/>
<path d="M149.9 286.5V374.5"/>
<path d="M228.8 286.5V374.5"/>
<path d="M307.8 286.5V374.5"/>
<path d="M386.8 286.5V374.5"/>
<path d="M465.7 286.5V374.5"/>
<path d="M540.9 286.5V374.5"/>
</g>
<g fill="#868686" stroke="#454545" stroke-width="0.7"><rect x="20.8" y="335.6" width="3.5" height="38.6"/><rect x="28.4" y="335.4" width="3.5" height="38.8"/><rect x="32.1" y="335.4" width="3.5" height="38.8"/><rect x="35.9" y="333.2" width="3.5" height="41"/><rect x="43.4" y="342.4" width="3.5" height="31.8"/><rect x="50.9" y="334.2" width="3.5" height="40"/><rect x="54.7" y="332.5" width="3.5" height="41.7"/><rect x="58.4" y="327.3" width="3.5" height="46.9"/><rect x="69.7" y="335.4" width="3.5" height="38.8"/><rect x="88.5" y="338.2" width="3.5" height="36"/><rect x="96" y="343.8" width="3.5" height="30.4"/><rect x="99.8" y="345.2" width="3.5" height="29"/><rect x="103.5" y="343.4" width="3.5" height="30.8"/><rect x="111.1" y="345.5" width="3.5" height="28.7"/><rect x="126.1" y="346.3" width="3.5" height="27.9"/><rect x="129.9" y="344.1" width="3.5" height="30.1"/><rect x="148.6" y="336.3" width="3.5" height="37.9"/><rect x="159.9" y="338.2" width="3.5" height="36"/><rect x="163.7" y="337.2" width="3.5" height="37"/><rect x="167.4" y="340.3" width="3.5" height="33.9"/><rect x="171.2" y="339.6" width="3.5" height="34.6"/><rect x="178.7" y="333.5" width="3.5" height="40.7"/><rect x="190" y="339.3" width="3.5" height="34.9"/><rect x="216.3" y="331.6" width="3.5" height="42.6"/><rect x="227.6" y="329.2" width="3.5" height="45"/><rect x="231.3" y="326.7" width="3.5" height="47.5"/><rect x="257.7" y="322.4" width="3.5" height="51.8"/><rect x="265.2" y="332.3" width="3.5" height="41.9"/><rect x="268.9" y="331.5" width="3.5" height="42.7"/><rect x="280.2" y="325.5" width="3.5" height="48.7"/><rect x="284" y="332.3" width="3.5" height="41.9"/><rect x="287.7" y="329.7" width="3.5" height="44.5"/><rect x="299" y="326.6" width="3.5" height="47.6"/><rect x="317.8" y="325.2" width="3.5" height="49"/><rect x="321.6" y="333.2" width="3.5" height="41"/><rect x="325.3" y="331.8" width="3.5" height="42.4"/><rect x="332.8" y="320" width="3.5" height="54.2"/><rect x="336.6" y="324.5" width="3.5" height="49.7"/><rect x="344.1" y="328.7" width="3.5" height="45.5"/><rect x="355.4" y="337.9" width="3.5" height="36.3"/><rect x="362.9" y="341.5" width="3.5" height="32.7"/><rect x="366.7" y="345" width="3.5" height="29.2"/><rect x="381.7" y="313" width="3.5" height="61.2"/><rect x="404.3" y="339.3" width="3.5" height="34.9"/><rect x="411.8" y="337.2" width="3.5" height="37"/><rect x="415.5" y="323.1" width="3.5" height="51.1"/><rect x="434.3" y="338" width="3.5" height="36.2"/><rect x="438.1" y="339.8" width="3.5" height="34.4"/><rect x="445.6" y="348.5" width="3.5" height="25.7"/><rect x="456.9" y="346.4" width="3.5" height="27.8"/><rect x="468.2" y="332.7" width="3.5" height="41.5"/><rect x="475.7" y="334.4" width="3.5" height="39.8"/><rect x="483.2" y="339.4" width="3.5" height="34.8"/><rect x="487" y="336.5" width="3.5" height="37.7"/><rect x="490.7" y="334.4" width="3.5" height="39.8"/><rect x="494.5" y="336.5" width="3.5" height="37.7"/><rect x="509.5" y="331.9" width="3.5" height="42.3"/><rect x="513.3" y="334.4" width="3.5" height="39.8"/><rect x="524.5" y="334.3" width="3.5" height="39.9"/><rect x="528.3" y="332.4" width="3.5" height="41.8"/><rect x="535.8" y="327.2" width="3.5" height="47"/><rect x="539.6" y="325.9" width="3.5" height="48.3"/><rect x="543.3" y="318.4" width="3.5" height="55.8"/><rect x="554.6" y="331.8" width="3.5" height="42.4"/><rect x="565.9" y="337.1" width="3.5" height="37.1"/><rect x="569.7" y="339.9" width="3.5" height="34.3"/><rect x="577.2" y="340.2" width="3.5" height="34"/><rect x="596" y="336.1" width="3.5" height="38.1"/></g>
<g fill="#d06c7a" stroke="#a8253f" stroke-width="0.7"><rect x="13.3" y="339.9" width="3.5" height="34.3"/><rect x="17.1" y="338.6" width="3.5" height="35.6"/><rect x="24.6" y="338.6" width="3.5" height="35.6"/><rect x="39.6" y="338.6" width="3.5" height="35.6"/><rect x="47.2" y="339.3" width="3.5" height="34.9"/><rect x="62.2" y="337.2" width="3.5" height="37"/><rect x="65.9" y="337.2" width="3.5" height="37"/><rect x="73.5" y="337.5" width="3.5" height="36.7"/><rect x="77.2" y="341" width="3.5" height="33.2"/><rect x="81" y="339.3" width="3.5" height="34.9"/><rect x="84.7" y="341" width="3.5" height="33.2"/><rect x="92.3" y="340.3" width="3.5" height="33.9"/><rect x="107.3" y="344.1" width="3.5" height="30.1"/><rect x="114.8" y="341" width="3.5" height="33.2"/><rect x="118.6" y="341.7" width="3.5" height="32.5"/><rect x="122.3" y="344.5" width="3.5" height="29.7"/><rect x="133.6" y="340.3" width="3.5" height="33.9"/><rect x="137.4" y="343.4" width="3.5" height="30.8"/><rect x="141.1" y="340.3" width="3.5" height="33.9"/><rect x="144.9" y="332.5" width="3.5" height="41.7"/><rect x="152.4" y="340" width="3.5" height="34.2"/><rect x="156.2" y="338.2" width="3.5" height="36"/><rect x="175" y="331.1" width="3.5" height="43.1"/><rect x="182.5" y="333.7" width="3.5" height="40.5"/><rect x="186.2" y="301.6" width="3.5" height="72.6"/><rect x="193.8" y="337.2" width="3.5" height="37"/><rect x="197.5" y="333.4" width="3.5" height="40.8"/><rect x="201.3" y="334.4" width="3.5" height="39.8"/><rect x="205" y="328.4" width="3.5" height="45.8"/><rect x="208.8" y="331.6" width="3.5" height="42.6"/><rect x="212.5" y="332.3" width="3.5" height="41.9"/><rect x="220.1" y="332.3" width="3.5" height="41.9"/><rect x="223.8" y="316.8" width="3.5" height="57.4"/><rect x="235.1" y="333" width="3.5" height="41.2"/><rect x="238.9" y="332.6" width="3.5" height="41.6"/><rect x="242.6" y="329.5" width="3.5" height="44.7"/><rect x="246.4" y="333.7" width="3.5" height="40.5"/><rect x="250.1" y="328.8" width="3.5" height="45.4"/><rect x="253.9" y="333.7" width="3.5" height="40.5"/><rect x="261.4" y="330.5" width="3.5" height="43.7"/><rect x="272.7" y="335.1" width="3.5" height="39.1"/><rect x="276.5" y="331.3" width="3.5" height="42.9"/><rect x="291.5" y="326.6" width="3.5" height="47.6"/><rect x="295.2" y="324.5" width="3.5" height="49.7"/><rect x="302.8" y="326.6" width="3.5" height="47.6"/><rect x="306.5" y="330.8" width="3.5" height="43.4"/><rect x="310.3" y="323.8" width="3.5" height="50.4"/><rect x="314" y="328" width="3.5" height="46.2"/><rect x="329.1" y="333" width="3.5" height="41.2"/><rect x="340.4" y="331.5" width="3.5" height="42.7"/><rect x="347.9" y="335.1" width="3.5" height="39.1"/><rect x="351.6" y="338.6" width="3.5" height="35.6"/><rect x="359.2" y="339.3" width="3.5" height="34.9"/><rect x="370.4" y="359.5" width="3.5" height="14.7"/><rect x="374.2" y="340" width="3.5" height="34.2"/><rect x="377.9" y="343.3" width="3.5" height="30.9"/><rect x="385.5" y="336.2" width="3.5" height="38"/><rect x="389.2" y="340" width="3.5" height="34.2"/><rect x="393" y="337.2" width="3.5" height="37"/><rect x="396.7" y="335.8" width="3.5" height="38.4"/><rect x="400.5" y="337.2" width="3.5" height="37"/><rect x="408" y="339.1" width="3.5" height="35.1"/><rect x="419.3" y="331.6" width="3.5" height="42.6"/><rect x="423.1" y="330.2" width="3.5" height="44"/><rect x="426.8" y="291.2" width="3.5" height="83"/><rect x="430.6" y="336.2" width="3.5" height="38"/><rect x="441.8" y="335.6" width="3.5" height="38.6"/><rect x="449.4" y="345.4" width="3.5" height="28.8"/><rect x="453.1" y="346.4" width="3.5" height="27.8"/><rect x="460.6" y="346.4" width="3.5" height="27.8"/><rect x="464.4" y="335.8" width="3.5" height="38.4"/><rect x="471.9" y="337.3" width="3.5" height="36.9"/><rect x="479.4" y="333" width="3.5" height="41.2"/><rect x="498.2" y="333" width="3.5" height="41.2"/><rect x="502" y="332.3" width="3.5" height="41.9"/><rect x="505.8" y="334.4" width="3.5" height="39.8"/><rect x="517" y="338.5" width="3.5" height="35.7"/><rect x="520.8" y="335" width="3.5" height="39.2"/><rect x="532.1" y="335.8" width="3.5" height="38.4"/><rect x="547.1" y="326.4" width="3.5" height="47.8"/><rect x="550.9" y="337.1" width="3.5" height="37.1"/><rect x="558.4" y="333.3" width="3.5" height="40.9"/><rect x="562.1" y="331.8" width="3.5" height="42.4"/><rect x="573.4" y="338.4" width="3.5" height="35.8"/><rect x="580.9" y="337.1" width="3.5" height="37.1"/><rect x="584.7" y="334.3" width="3.5" height="39.9"/><rect x="588.5" y="335.2" width="3.5" height="39"/><rect x="592.2" y="337.1" width="3.5" height="37.1"/><rect x="599.7" y="338.4" width="3.5" height="35.8"/></g>
<path d="M12.5 333C13.17 333.19 7.67 333.43 15 333.7C22.33 333.97 26.93 333.84 40 334C53.07 334.16 48.53 333.69 64 334.3C79.47 334.91 82.27 335.26 98 336.3C113.73 337.34 108.87 337.51 123 338.2C137.13 338.89 134.47 339.11 151 338.9C167.53 338.69 169.80 338.23 185 337.4C200.20 336.57 194.40 336.79 208 335.8C221.60 334.81 220.80 334.45 236 333.7C251.20 332.95 249.80 333.45 265 333C280.20 332.55 278.07 332.51 293 332C307.93 331.49 305.80 331.42 321 331.1C336.20 330.78 338.53 330.67 350 330.8C361.47 330.93 356.80 330.69 364 331.6C371.20 332.51 369.53 333.64 377 334.2C384.47 334.76 382.40 333.65 392 333.7C401.60 333.75 403.40 334.77 413 334.4C422.60 334.03 420.80 332.78 428 332.3C435.20 331.82 434.67 332.33 440 332.6C445.33 332.87 445.07 332.50 448 333.3C450.93 334.10 447.00 334.85 451 335.6C455.00 336.35 452.33 336.05 463 336.1C473.67 336.15 475.80 336.12 491 335.8C506.20 335.48 504.80 335.57 520 334.9C535.20 334.23 535.47 333.73 548 333.3C560.53 332.87 557.13 332.95 567 333.3C576.87 333.65 575.67 334.20 585 334.6C594.33 335.00 597.47 334.75 602 334.8" fill="none" stroke="#ff2a2a" stroke-width="1.0" stroke-linejoin="round" stroke-linecap="round"/>
<rect x="12.3" y="286.5" width="594.1" height="88" fill="none" stroke="#a6a6a6" stroke-width="0.9"/>
<path d="M14.4 294.6V290.7H16V288.3H17.7V289.8H19.3V289.4H21V294.6Z" fill="#555"/>
<text x="23.5" y="294.4" font-family="'DejaVu Sans', Verdana, sans-serif" font-size="7.9" font-weight="normal" fill="#000" text-anchor="start" textLength="125.4" lengthAdjust="spacing" >Volume 2.16B, EMA(50) 2.39B</text>
<text x="609.6" y="360.2" font-family="'Liberation Sans', Arial, sans-serif" font-size="8" font-weight="normal" fill="#000" text-anchor="start" >1B</text>
<text x="609.6" y="343.7" font-family="'Liberation Sans', Arial, sans-serif" font-size="8" font-weight="normal" fill="#000" text-anchor="start" >2B</text>
<text x="609.6" y="327.1" font-family="'Liberation Sans', Arial, sans-serif" font-size="8" font-weight="normal" fill="#000" text-anchor="start" >3B</text>
<text x="609.6" y="310.5" font-family="'Liberation Sans', Arial, sans-serif" font-size="8" font-weight="normal" fill="#000" text-anchor="start" >4B</text>
<text x="609.6" y="293.9" font-family="'Liberation Sans', Arial, sans-serif" font-size="8" font-weight="normal" fill="#000" text-anchor="start" >5B</text>
<path d="M604.4 338.2L607.8 334.6H639.5V341.9H607.8Z" fill="#fff" stroke="#000" stroke-width="1"/>
<clipPath id="cv"><rect x="600" y="330" width="39" height="16"/></clipPath>
<g clip-path="url(#cv)">
<text x="608.4" y="341.1" font-family="'Liberation Sans', Arial, sans-serif" font-size="8" font-weight="normal" fill="#000" text-anchor="start" >2155926016</text>
</g>
<polygon points="15.2,318.5 21.4,318.5 21.4,324.5 24.4,324.5 18.3,330.8 12.2,324.5 15.2,324.5" fill="#777777"/>
<polygon points="45,319.4 51.2,319.4 51.2,325.4 54.2,325.4 48.1,331.7 42,325.4 45,325.4" fill="#777777"/>
<polygon points="78.8,322.2 85.1,322.2 85.1,328.2 88,328.2 81.9,334.5 75.8,328.2 78.8,328.2" fill="#777777"/>
<polygon points="111.9,320.2 118.2,320.2 118.2,326.2 121.2,326.2 115.1,332.5 109,326.2 111.9,326.2" fill="#777777"/>
<polygon points="130.5,324.1 136.8,324.1 136.8,330.1 139.8,330.1 133.7,336.4 127.6,330.1 130.5,330.1" fill="#777777"/>
<polygon points="137.7,316.2 144,316.2 144,322.2 146.9,322.2 140.8,328.5 134.7,322.2 137.7,322.2" fill="#777777"/>
<polygon points="142.5,305.6 148.8,305.6 148.8,311.6 151.8,311.6 145.7,317.9 139.6,311.6 142.5,311.6" fill="#777777"/>
<polygon points="152.8,317.8 159.2,317.8 159.2,323.8 162.1,323.8 156,330.1 149.9,323.8 152.8,323.8" fill="#777777"/>
<polygon points="171.8,312.7 178.1,312.7 178.1,318.7 181,318.7 174.9,325 168.8,318.7 171.8,318.7" fill="#777777"/>
<polygon points="179,305.5 185.3,305.5 185.3,311.5 188.3,311.5 182.2,317.8 176.1,311.5 179,311.5" fill="#777777"/>
<polygon points="183.2,281.3 189.6,281.3 189.6,287.3 192.5,287.3 186.4,293.6 180.3,287.3 183.2,287.3" fill="#777777"/>
<polygon points="189.5,315.8 195.8,315.8 195.8,321.8 198.8,321.8 192.7,328.1 186.6,321.8 189.5,321.8" fill="#777777"/>
<polygon points="194.8,313.5 201.2,313.5 201.2,319.5 204.1,319.5 198,325.8 191.9,319.5 194.8,319.5" fill="#777777"/>
<polygon points="202.7,302.8 209,302.8 209,308.8 211.9,308.8 205.8,315.1 199.7,308.8 202.7,308.8" fill="#777777"/>
<polygon points="220.9,297.8 227.2,297.8 227.2,303.8 230.2,303.8 224.1,310.1 218,303.8 220.9,303.8" fill="#777777"/>
<polygon points="239.8,310.7 246.2,310.7 246.2,316.7 249.1,316.7 243,323 236.9,316.7 239.8,316.7" fill="#777777"/>
<polygon points="247.2,303.5 253.6,303.5 253.6,309.5 256.5,309.5 250.4,315.8 244.3,309.5 247.2,309.5" fill="#777777"/>
<polygon points="258.5,296.4 264.6,302.7 261.6,302.7 261.6,308.7 255.3,308.7 255.3,302.7 252.4,302.7" fill="#777777"/>
<polygon points="273.4,312.3 279.6,312.3 279.6,318.3 282.6,318.3 276.5,324.6 270.4,318.3 273.4,318.3" fill="#777777"/>
<polygon points="279.4,297.7 285.5,304 282.5,304 282.5,310 276.2,310 276.2,304 273.3,304" fill="#777777"/>
<polygon points="288.2,308 294.4,308 294.4,314 297.4,314 291.3,320.3 285.2,314 288.2,314" fill="#777777"/>
<polygon points="292.2,297.2 298.4,297.2 298.4,303.2 301.4,303.2 295.3,309.5 289.2,303.2 292.2,303.2" fill="#777777"/>
<polygon points="307.2,303.2 313.5,303.2 313.5,309.2 316.5,309.2 310.4,315.5 304.3,309.2 307.2,309.2" fill="#777777"/>
<polygon points="389.2,317.5 395.4,317.5 395.4,323.5 398.4,323.5 392.3,329.8 386.2,323.5 389.2,323.5" fill="#777777"/>
<polygon points="393.8,306 400,306 400,312 403,312 396.9,318.3 390.8,312 393.8,312" fill="#777777"/>
<polygon points="421.5,315.8 427.8,315.8 427.8,321.8 430.7,321.8 424.6,328.1 418.5,321.8 421.5,321.8" fill="#777777"/>
<polygon points="425.8,276.5 432,276.5 432,282.5 435,282.5 428.9,288.8 422.8,282.5 425.8,282.5" fill="#777777"/>
<polygon points="441.1,319.2 447.3,319.2 447.3,325.2 450.3,325.2 444.2,331.5 438.1,325.2 441.1,325.2" fill="#777777"/>
<polygon points="448.8,330.9 455,330.9 455,336.9 458,336.9 451.9,343.2 445.8,336.9 448.8,336.9" fill="#777777"/>
<polygon points="458.2,330.9 464.3,337.2 461.3,337.2 461.3,343.2 455.1,343.2 455.1,337.2 452.1,337.2" fill="#777777"/>
<polygon points="462.6,319.2 468.8,319.2 468.8,325.2 471.8,325.2 465.7,331.5 459.6,325.2 462.6,325.2" fill="#777777"/>
<polygon points="476.8,318.6 482.9,324.9 479.9,324.9 479.9,330.9 473.7,330.9 473.7,324.9 470.7,324.9" fill="#777777"/>
<polygon points="479.1,319.2 485.3,319.2 485.3,325.2 488.3,325.2 482.2,331.5 476.1,325.2 479.1,325.2" fill="#777777"/>
<polygon points="496.4,316.5 502.6,316.5 502.6,322.5 505.6,322.5 499.5,328.8 493.4,322.5 496.4,322.5" fill="#777777"/>
<polygon points="561.1,317.6 567.4,317.6 567.4,323.6 570.4,323.6 564.3,329.9 558.2,323.6 561.1,323.6" fill="#ff0000"/>
<polygon points="579.1,317.9 585.4,317.9 585.4,323.9 588.4,323.9 582.3,330.2 576.2,323.9 579.1,323.9" fill="#ff0000"/>
<g stroke="#e4e4e4" stroke-width="0.8" fill="none">
<path d="M25.8 374.5V463.2"/>
<path d="M44.6 374.5V463.2"/>
<path d="M82.2 374.5V463.2"/>
<path d="M101 374.5V463.2"/>
<path d="M119.8 374.5V463.2"/>
<path d="M138.6 374.5V463.2"/>
<path d="M157.4 374.5V463.2"/>
<path d="M172.4 374.5V463.2"/>
<path d="M191.2 374.5V463.2"/>
<path d="M210 374.5V463.2"/>
<path d="M247.6 374.5V463.2"/>
<path d="M266.4 374.5V463.2"/>
<path d="M285.2 374.5V463.2"/>
<path d="M304 374.5V463.2"/>
<path d="M322.8 374.5V463.2"/>
<path d="M341.6 374.5V463.2"/>
<path d="M360.4 374.5V463.2"/>
<path d="M375.5 374.5V463.2"/>
<path d="M394.3 374.5V463.2"/>
<path d="M413.1 374.5V463.2"/>
<path d="M431.9 374.5V463.2"/>
<path d="M450.7 374.5V463.2"/>
<path d="M480.8 374.5V463.2"/>
<path d="M499.6 374.5V463.2"/>
<path d="M514.6 374.5V463.2"/>
<path d="M533.4 374.5V463.2"/>
<path d="M552.2 374.5V463.2"/>
<path d="M571 374.5V463.2"/>
<path d="M589.8 374.5V463.2"/>
<path d="M12.3 449.7H606.4"/>
<path d="M12.3 436.7H606.4"/>
<path d="M12.3 423.7H606.4"/>
<path d="M12.3 410.8H606.4"/>
<path d="M12.3 397.8H606.4"/>
<path d="M12.3 384.8H606.4"/>
</g>
<g stroke="#c8c8c8" stroke-width="0.8" fill="none">
<path d="M63.4 374.5V463.2"/>
<path d="M149.9 374.5V463.2"/>
<path d="M228.8 374.5V463.2"/>
<path d="M307.8 374.5V463.2"/>
<path d="M386.8 374.5V463.2"/>
<path d="M465.7 374.5V463.2"/>
<path d="M540.9 374.5V463.2"/>
</g>
<clipPath id="ca"><rect x="12.3" y="374.5" width="594.1" height="88.7"/></clipPath>
<g clip-path="url(#ca)">
<path d="M12.8 437.8 L18.3 443 L21.8 431.8 L26.9 425.8 L35.5 416.8 L42.4 420.6 L48.4 424 L52.4 411.1 L55.3 408.6 L59.6 398.2 L63.1 400.8 L66.5 406.8 L70 405.6 L78.2 411.5 L82.9 406.8 L85.5 407.7 L93.2 388.8 L96.6 390.8 L104.4 387.4 L109.6 393.9 L113.4 399.1 L117.7 406.8 L122.9 415.4 L128.1 418.9 L131.5 411.6 L135 422.3 L141 429.2 L145.3 434.4 L149.9 439.5 L153.9 432.6 L157.3 435.2 L161.6 428.3 L165.1 426.6 L169.4 412.8 L172.8 406 L176.3 419.7 L180.6 424 L187.5 431.8 L191.8 430.9 L197.8 439.5 L203.8 443.8 L209.8 450.7 L213.3 453.3 L216.7 451.6 L221.9 455.9 L225.3 457.6 L228.8 454.1 L233.1 438.7 L236.5 438.7 L240.8 442.1 L245.1 446.4 L250.3 449.8 L255.4 452.4 L258.9 457.6 L262.3 455.9 L265.8 457.6 L270.1 446.4 L274.4 447.3 L278.7 450.7 L282.1 449 L285.6 441.2 L289 431.8 L292.5 430.6 L295.9 432.3 L300.2 427.5 L304.5 430 L308.8 433.5 L311.4 439.5 L314.8 441.6 L318.3 437.8 L321.7 434.4 L323.4 431.8 L326.9 427.1 L330.3 431.8 L334.6 410.3 L338.1 406.5 L345.8 409.4 L352.7 415.8 L356.5 412.3 L360.4 415.1 L366.5 404.2 L369.9 403.4 L375.1 409.4 L379.4 414 L382.8 397.4 L386.3 396.5 L390.6 402.5 L397.5 415.4 L402.6 419.7 L405.2 417.1 L409.5 420.6 L412.9 420.2 L417.2 397.9 L421.6 409.4 L425 416.3 L430.2 423.2 L435.7 427.8 L439.6 418 L443.9 426.6 L450.8 431.8 L456 436.1 L461.5 439.9 L466 433 L470.1 436.9 L473.2 439.2 L476.6 426.1 L480.9 418 L484.4 422 L488.7 411.6 L492.1 408.5 L495.9 411.6 L499.9 411.6 L503.3 418.9 L507.3 422 L511.1 411.1 L514.5 399.1 L517.9 402.5 L521.7 409.4 L526.5 399.9 L529.6 396.8 L532.6 401.7 L536.4 404.4 L544.1 389.7 L552.1 400.2 L555.9 393.9 L562.6 407.5 L566.8 410.7 L571 401.6 L574.2 402.3 L579.4 409.6 L585.7 418 L592 425.4 L596.2 427.5 L600.8 432.7" fill="none" stroke="#2e8b57" stroke-width="1.0" stroke-linejoin="round" stroke-linecap="round" />
<path d="M12.8 410.3 L18.3 405.6 L30.4 424.9 L37.3 430.1 L44.1 435.2 L48.4 430.9 L54.5 438.7 L59.6 443.8 L63.9 445.6 L67.4 444.2 L73.4 449 L78.2 443.8 L81.1 445.9 L86.3 443.5 L92.3 448.1 L99.2 452.5 L105.2 455.9 L108.7 451.6 L112.1 452.4 L116 442.1 L120.3 421.4 L127.2 424 L131 428.3 L134.1 415.4 L138.4 406 L141.8 398.2 L146.1 399.9 L150.1 393 L153.9 403.4 L157.8 404.2 L161.6 410.3 L166.8 418 L172 425.4 L175.9 397.4 L179.7 399.1 L184 398.2 L187.5 392.2 L191.8 398.2 L196.1 402 L199.5 400.8 L202.9 393 L206.4 381.9 L209.8 387.9 L213.3 391.3 L217.6 399.1 L224.5 401.7 L228.8 409.4 L233.9 418.9 L240.5 425.4 L243.4 407.7 L246.8 404.8 L251.1 405.4 L255.4 407.7 L258.9 403.4 L262.3 410.3 L266.6 418 L270.1 423.2 L274.4 422.3 L277.8 425.8 L281.3 430.1 L287.3 435.2 L293.3 439.2 L296.8 436.9 L300.2 440.4 L304.5 443 L307.9 441.2 L311.4 427.5 L315.3 417.5 L318.3 421.4 L322 424.5 L326.5 430.1 L330.7 425.4 L334.6 435.2 L341.5 440.4 L348.4 445.5 L353 435.7 L357 437.8 L363 441.2 L370.8 443.8 L375.1 429.2 L379.4 426.6 L382.8 435.2 L386.3 438.7 L390.6 435.2 L394 428.3 L397.8 416.3 L403.5 419.7 L409.5 426.1 L413.8 430.9 L417.2 436.4 L420.7 432.6 L424.1 417.1 L428.4 407.7 L431.9 406.5 L435.7 408.5 L439.1 413.7 L443.1 403.4 L446.5 407.2 L450.8 410.6 L454.6 407.2 L458.6 413.7 L462 416.3 L468.9 426.1 L472.3 427.1 L476.6 433.5 L480.1 436.4 L483.9 435.7 L490.4 440.9 L499 446.4 L503.3 432.6 L507.3 424.4 L511.1 429.2 L517.9 436.4 L522.2 428.3 L525.7 431.3 L529.1 433.5 L533.6 428.1 L539.5 436.9 L544.8 443.2 L547.9 442.2 L552.1 435.9 L560.1 443.2 L563.7 435.9 L567.9 435.2 L574.2 441.1 L579.4 444.9 L583.2 442.2 L586.8 428.5 L589.9 421.2 L593.1 419.1 L597.3 423.9 L600.8 420.5" fill="none" stroke="#c0305a" stroke-width="1.0" stroke-linejoin="round" stroke-linecap="round" />
<path d="M12.8 438.3C14.93 437.57 15.07 435.40 19.2 436.1C23.33 436.80 20.33 437.23 25.2 440.4C30.07 443.57 28.07 443.03 33.8 445.6C39.53 448.17 37.23 446.67 42.4 448.1C47.57 449.53 45.27 450.17 49.3 449.9C53.33 449.63 51.07 449.60 54.5 447.3C57.93 445.00 55.03 446.43 59.6 443C64.17 439.57 62.47 440.43 68.2 437C73.93 433.57 71.03 435.13 76.8 432.7C82.57 430.27 79.73 433.17 85.5 429.7C91.27 426.23 88.37 427.90 94.1 422.3C99.83 416.70 96.97 417.87 102.7 412.9C108.43 407.93 106.87 409.37 111.3 407.4C115.73 405.43 113.00 404.90 116 407C119.00 409.10 116.57 408.90 120.3 413.7C124.03 418.50 122.03 416.80 127.2 421.4C132.37 426.00 130.07 425.03 135.8 427.5C141.53 429.97 139.70 429.10 144.4 428.8C149.10 428.50 145.30 426.77 149.9 426.6C154.50 426.43 153.13 426.30 158.2 428.3C163.27 430.30 160.50 429.90 165.1 432.6C169.70 435.30 166.27 434.67 172 436.4C177.73 438.13 176.00 437.63 182.3 437.8C188.60 437.97 186.30 437.47 190.9 436.9C195.50 436.33 192.10 438.10 196.1 436.1C200.10 434.10 197.77 435.50 202.9 430.9C208.03 426.30 207.47 426.03 211.5 422.3C215.53 418.57 211.53 422.87 215 419.7C218.47 416.53 217.60 416.40 221.9 412.8C226.20 409.20 223.90 408.60 227.9 408.9C231.90 409.20 229.70 410.83 233.9 413.7C238.10 416.57 235.90 417.20 240.5 417.5C245.10 417.80 243.00 416.43 247.7 414.6C252.40 412.77 250.00 414.30 254.6 412C259.20 409.70 257.60 409.60 261.5 407.7C265.40 405.80 262.30 405.73 266.3 406.3C270.30 406.87 268.80 407.40 273.5 409.4C278.20 411.40 275.80 408.87 280.4 412.3C285.00 415.73 282.70 414.93 287.3 419.7C291.90 424.47 289.60 422.57 294.2 426.6C298.80 430.63 295.93 428.53 301.1 431.8C306.27 435.07 304.57 434.57 309.7 436.4C314.83 438.23 313.07 435.57 316.5 437.3C319.93 439.03 316.53 438.87 320 441.6C323.47 444.33 322.60 443.60 326.9 445.5C331.20 447.40 328.90 447.57 332.9 447.3C336.90 447.03 333.73 447.00 338.9 444.7C344.07 442.40 340.93 442.13 348.4 440.4C355.87 438.67 353.57 441.40 361.3 439.5C369.03 437.60 365.57 434.97 371.6 434.7C377.63 434.43 374.50 438.37 379.4 438.7C384.30 439.03 382.30 436.87 386.3 435.7C390.30 434.53 388.27 434.20 391.4 435.2C394.53 436.20 391.97 435.67 395.7 438.7C399.43 441.73 396.87 440.30 402.6 444.3C408.33 448.30 407.43 449.70 412.9 450.7C418.37 451.70 414.97 447.30 419 447.3C423.03 447.30 420.43 449.17 425 450.7C429.57 452.23 427.83 450.77 432.7 451.9C437.57 453.03 433.57 453.63 439.6 454.1C445.63 454.57 443.50 454.60 450.8 453.3C458.10 452.00 455.17 450.50 461.5 450.2C467.83 449.90 464.77 451.10 469.8 452.4C474.83 453.70 471.73 453.10 476.6 454.1C481.47 455.10 479.80 456.23 484.4 455.4C489.00 454.57 485.53 454.70 490.4 451.6C495.27 448.50 494.70 447.73 499 446.1C503.30 444.47 499.87 445.17 503.3 446.7C506.73 448.23 504.43 450.50 509.3 450.7C514.17 450.90 512.73 448.73 517.9 447.3C523.07 445.87 520.20 447.17 524.8 446.4C529.40 445.63 528.20 445.70 531.7 445C535.20 444.30 532.00 445.93 535.3 444.3C538.60 442.67 537.40 442.90 541.6 440.1C545.80 437.30 543.70 437.80 547.9 435.9C552.10 434.00 550.00 436.03 554.2 434.4C558.40 432.77 556.30 431.90 560.5 431C564.70 430.10 562.60 431.97 566.8 431.7C571.00 431.43 568.90 431.27 573.1 430.2C577.30 429.13 575.77 428.70 579.4 428.5C583.03 428.30 580.50 427.50 584 429.6C587.50 431.70 585.83 431.30 589.9 434.8C593.97 438.30 592.57 437.63 596.2 440.1C599.83 442.57 599.27 441.50 600.8 442.2" fill="none" stroke="#111111" stroke-width="1.4" stroke-linejoin="round" stroke-linecap="round"/>
</g>
<rect x="12.3" y="374.5" width="594.1" height="88.7" fill="none" stroke="#a6a6a6" stroke-width="0.9"/>
<polygon points="30.9,425.8 37,432.1 34,432.1 34,438.1 27.8,438.1 27.8,432.1 24.8,432.1" fill="#777777"/>
<polygon points="131.4,395.1 137.8,395.1 137.8,401.1 140.7,401.1 134.6,407.4 128.5,401.1 131.4,401.1" fill="#777777"/>
<polygon points="171.9,382.4 178.2,382.4 178.2,388.4 181.2,388.4 175.1,394.7 169,388.4 171.9,388.4" fill="#777777"/>
<polygon points="167.3,434.7 173.4,441 170.5,441 170.5,447 164.2,447 164.2,441 161.2,441" fill="#777777"/>
<polygon points="288.5,442.6 294.6,448.9 291.6,448.9 291.6,454.9 285.4,454.9 285.4,448.9 282.4,448.9" fill="#777777"/>
<polygon points="305.4,406.3 311.6,406.3 311.6,412.3 314.6,412.3 308.5,418.6 302.4,412.3 305.4,412.3" fill="#777777"/>
<polygon points="325.2,405.1 331.4,405.1 331.4,411.1 334.4,411.1 328.3,417.4 322.2,411.1 325.2,411.1" fill="#777777"/>
<polygon points="325.7,434.4 331.8,440.7 328.8,440.7 328.8,446.7 322.6,446.7 322.6,440.7 319.6,440.7" fill="#777777"/>
<polygon points="332.9,441.2 339,447.5 336,447.5 336,453.5 329.8,453.5 329.8,447.5 326.8,447.5" fill="#777777"/>
<polygon points="421.4,391.2 427.6,391.2 427.6,397.2 430.6,397.2 424.5,403.5 418.4,397.2 421.4,397.2" fill="#ff0000"/>
<polygon points="479.6,438.7 485.7,445 482.8,445 482.8,451 476.5,451 476.5,445 473.5,445" fill="#375623"/>
<polygon points="586.8,403 593,403 593,409 596,409 589.9,415.3 583.8,409 586.8,409" fill="#ff0000"/>
<path d="M14.5 380.2H21" stroke="#000" stroke-width="1.6"/>
<text x="23.5" y="382.9" font-family="'DejaVu Sans', Verdana, sans-serif" font-size="7.7" font-weight="normal" fill="#000" text-anchor="start" textLength="60.5" lengthAdjust="spacing" >ADX(14) 18.02</text>
<text x="88.8" y="382.9" font-family="'DejaVu Sans', Verdana, sans-serif" font-size="7.7" font-weight="normal" fill="#1e7b3c" text-anchor="start" textLength="40.9" lengthAdjust="spacing" >+DI 21.69</text>
<text x="135.3" y="382.9" font-family="'DejaVu Sans', Verdana, sans-serif" font-size="7.7" font-weight="normal" fill="#b81e50" text-anchor="start" textLength="38.9" lengthAdjust="spacing" >-DI 26.02</text>
<text x="608.9" y="452.2" font-family="'Liberation Sans', Arial, sans-serif" font-size="8" font-weight="normal" fill="#000" text-anchor="start" >15</text>
<text x="608.9" y="439.2" font-family="'Liberation Sans', Arial, sans-serif" font-size="8" font-weight="normal" fill="#000" text-anchor="start" >20</text>
<text x="608.9" y="426.2" font-family="'Liberation Sans', Arial, sans-serif" font-size="8" font-weight="normal" fill="#000" text-anchor="start" >25</text>
<text x="608.9" y="413.3" font-family="'Liberation Sans', Arial, sans-serif" font-size="8" font-weight="normal" fill="#000" text-anchor="start" >30</text>
<text x="608.9" y="400.3" font-family="'Liberation Sans', Arial, sans-serif" font-size="8" font-weight="normal" fill="#000" text-anchor="start" >35</text>
<text x="608.9" y="387.3" font-family="'Liberation Sans', Arial, sans-serif" font-size="8" font-weight="normal" fill="#000" text-anchor="start" >40</text>
<path d="M604.4 420.9L607.8 417.3H629.8V424.5H607.8Z" fill="#fff" stroke="#b03060" stroke-width="1.1"/>
<text x="608.6" y="423.8" font-family="'Liberation Sans', Arial, sans-serif" font-size="8" font-weight="normal" fill="#000" text-anchor="start" textLength="19.6" lengthAdjust="spacingAndGlyphs" >26.02</text>
<path d="M604.4 432.2L607.8 428.6H629.8V435.8H607.8Z" fill="#fff" stroke="#1e7b3c" stroke-width="1.1"/>
<text x="608.6" y="435.1" font-family="'Liberation Sans', Arial, sans-serif" font-size="8" font-weight="normal" fill="#000" text-anchor="start" textLength="19.6" lengthAdjust="spacingAndGlyphs" >21.69</text>
<path d="M604.4 441.9L607.8 438.3H629.8V445.5H607.8Z" fill="#fff" stroke="#000" stroke-width="1.1"/>
<text x="608.6" y="444.8" font-family="'Liberation Sans', Arial, sans-serif" font-size="8" font-weight="normal" fill="#000" text-anchor="start" textLength="19.6" lengthAdjust="spacingAndGlyphs" >18.02</text>
<path d="M14.5 463.5V465M18.3 463.5V465M22 463.5V465M25.8 463.5V465M29.6 463.5V465M33.3 463.5V465M37.1 463.5V465M40.8 463.5V465M44.6 463.5V465M48.4 463.5V465M52.1 463.5V465M55.9 463.5V465M59.6 463.5V465M63.4 463.5V465M67.1 463.5V465M70.9 463.5V465M74.7 463.5V465M78.4 463.5V465M82.2 463.5V465M85.9 463.5V465M89.7 463.5V465M93.5 463.5V465M97.2 463.5V465M101 463.5V465M104.7 463.5V465M108.5 463.5V465M112.3 463.5V465M116 463.5V465M119.8 463.5V465M123.5 463.5V465M127.3 463.5V465M131.1 463.5V465M134.8 463.5V465M138.6 463.5V465M142.3 463.5V465M146.1 463.5V465M149.8 463.5V465M153.6 463.5V465M157.4 463.5V465M161.1 463.5V465M164.9 463.5V465M168.6 463.5V465M172.4 463.5V465M176.2 463.5V465M179.9 463.5V465M183.7 463.5V465M187.4 463.5V465M191.2 463.5V465M195 463.5V465M198.7 463.5V465M202.5 463.5V465M206.2 463.5V465M210 463.5V465M213.7 463.5V465M217.5 463.5V465M221.3 463.5V465M225 463.5V465M228.8 463.5V465M232.5 463.5V465M236.3 463.5V465M240.1 463.5V465M243.8 463.5V465M247.6 463.5V465M251.3 463.5V465M255.1 463.5V465M258.9 463.5V465M262.6 463.5V465M266.4 463.5V465M270.1 463.5V465M273.9 463.5V465M277.7 463.5V465M281.4 463.5V465M285.2 463.5V465M288.9 463.5V465M292.7 463.5V465M296.4 463.5V465M300.2 463.5V465M304 463.5V465M307.7 463.5V465M311.5 463.5V465M315.2 463.5V465M319 463.5V465M322.8 463.5V465M326.5 463.5V465M330.3 463.5V465M334 463.5V465M337.8 463.5V465M341.6 463.5V465M345.3 463.5V465M349.1 463.5V465M352.8 463.5V465M356.6 463.5V465M360.4 463.5V465M364.1 463.5V465M367.9 463.5V465M371.6 463.5V465M375.4 463.5V465M379.1 463.5V465M382.9 463.5V465M386.7 463.5V465M390.4 463.5V465M394.2 463.5V465M397.9 463.5V465M401.7 463.5V465M405.5 463.5V465M409.2 463.5V465M413 463.5V465M416.7 463.5V465M420.5 463.5V465M424.3 463.5V465M428 463.5V465M431.8 463.5V465M435.5 463.5V465M439.3 463.5V465M443 463.5V465M446.8 463.5V465M450.6 463.5V465M454.3 463.5V465M458.1 463.5V465M461.8 463.5V465M465.6 463.5V465M469.4 463.5V465M473.1 463.5V465M476.9 463.5V465M480.6 463.5V465M484.4 463.5V465M488.2 463.5V465M491.9 463.5V465M495.7 463.5V465M499.4 463.5V465M503.2 463.5V465M507 463.5V465M510.7 463.5V465M514.5 463.5V465M518.2 463.5V465M522 463.5V465M525.7 463.5V465M529.5 463.5V465M533.3 463.5V465M537 463.5V465M540.8 463.5V465M544.5 463.5V465M548.3 463.5V465M552.1 463.5V465M555.8 463.5V465M559.6 463.5V465M563.3 463.5V465M567.1 463.5V465M570.9 463.5V465M574.6 463.5V465M578.4 463.5V465M582.1 463.5V465M585.9 463.5V465M589.7 463.5V465M593.4 463.5V465M597.2 463.5V465M600.9 463.5V465" stroke="#b0b0b0" stroke-width="0.9" fill="none"/>
<text x="25.8" y="471.3" font-family="'Liberation Sans', Arial, sans-serif" font-size="8" font-weight="normal" fill="#000" text-anchor="middle" >18</text>
<text x="44.6" y="471.3" font-family="'Liberation Sans', Arial, sans-serif" font-size="8" font-weight="normal" fill="#000" text-anchor="middle" >25</text>
<text x="63.4" y="471.3" font-family="'Liberation Sans', Arial, sans-serif" font-size="8.7" font-weight="bold" fill="#000" text-anchor="middle" >Aug</text>
<text x="82.2" y="471.3" font-family="'Liberation Sans', Arial, sans-serif" font-size="8" font-weight="normal" fill="#000" text-anchor="middle" >8</text>
<text x="101" y="471.3" font-family="'Liberation Sans', Arial, sans-serif" font-size="8" font-weight="normal" fill="#000" text-anchor="middle" >15</text>
<text x="119.8" y="471.3" font-family="'Liberation Sans', Arial, sans-serif" font-size="8" font-weight="normal" fill="#000" text-anchor="middle" >22</text>
<text x="137.9" y="471.3" font-family="'Liberation Sans', Arial, sans-serif" font-size="8" font-weight="normal" fill="#000" text-anchor="middle" >29</text>
<text x="150.5" y="471.3" font-family="'Liberation Sans', Arial, sans-serif" font-size="8.7" font-weight="bold" fill="#000" text-anchor="middle" >Sep</text>
<text x="172.4" y="471.3" font-family="'Liberation Sans', Arial, sans-serif" font-size="8" font-weight="normal" fill="#000" text-anchor="middle" >12</text>
<text x="191.2" y="471.3" font-family="'Liberation Sans', Arial, sans-serif" font-size="8" font-weight="normal" fill="#000" text-anchor="middle" >19</text>
<text x="210" y="471.3" font-family="'Liberation Sans', Arial, sans-serif" font-size="8" font-weight="normal" fill="#000" text-anchor="middle" >26</text>
<text x="228.8" y="471.3" font-family="'Liberation Sans', Arial, sans-serif" font-size="8.7" font-weight="bold" fill="#000" text-anchor="middle" >Oct</text>
<text x="247.6" y="471.3" font-family="'Liberation Sans', Arial, sans-serif" font-size="8" font-weight="normal" fill="#000" text-anchor="middle" >10</text>
<text x="266.4" y="471.3" font-family="'Liberation Sans', Arial, sans-serif" font-size="8" font-weight="normal" fill="#000" text-anchor="middle" >17</text>
<text x="285.2" y="471.3" font-family="'Liberation Sans', Arial, sans-serif" font-size="8" font-weight="normal" fill="#000" text-anchor="middle" >24</text>
<text x="307.8" y="471.3" font-family="'Liberation Sans', Arial, sans-serif" font-size="8.7" font-weight="bold" fill="#000" text-anchor="middle" >Nov</text>
<text x="322.8" y="471.3" font-family="'Liberation Sans', Arial, sans-serif" font-size="8" font-weight="normal" fill="#000" text-anchor="middle" >7</text>
<text x="341.6" y="471.3" font-family="'Liberation Sans', Arial, sans-serif" font-size="8" font-weight="normal" fill="#000" text-anchor="middle" >14</text>
<text x="360.4" y="471.3" font-family="'Liberation Sans', Arial, sans-serif" font-size="8" font-weight="normal" fill="#000" text-anchor="middle" >21</text>
<text x="375.5" y="471.3" font-family="'Liberation Sans', Arial, sans-serif" font-size="8" font-weight="normal" fill="#000" text-anchor="middle" >28</text>
<text x="387.3" y="471.3" font-family="'Liberation Sans', Arial, sans-serif" font-size="8.7" font-weight="bold" fill="#000" text-anchor="middle" >Dec</text>
<text x="413.1" y="471.3" font-family="'Liberation Sans', Arial, sans-serif" font-size="8" font-weight="normal" fill="#000" text-anchor="middle" >12</text>
<text x="431.9" y="471.3" font-family="'Liberation Sans', Arial, sans-serif" font-size="8" font-weight="normal" fill="#000" text-anchor="middle" >19</text>
<text x="450.7" y="471.3" font-family="'Liberation Sans', Arial, sans-serif" font-size="8" font-weight="normal" fill="#000" text-anchor="middle" >27</text>
<text x="465.7" y="471.3" font-family="'Liberation Sans', Arial, sans-serif" font-size="8.7" font-weight="bold" fill="#000" text-anchor="middle" >2023</text>
<text x="480.8" y="471.3" font-family="'Liberation Sans', Arial, sans-serif" font-size="8" font-weight="normal" fill="#000" text-anchor="middle" >9</text>
<text x="499.6" y="471.3" font-family="'Liberation Sans', Arial, sans-serif" font-size="8" font-weight="normal" fill="#000" text-anchor="middle" >17</text>
<text x="514.6" y="471.3" font-family="'Liberation Sans', Arial, sans-serif" font-size="8" font-weight="normal" fill="#000" text-anchor="middle" >23</text>
<text x="540.9" y="471.3" font-family="'Liberation Sans', Arial, sans-serif" font-size="8.7" font-weight="bold" fill="#000" text-anchor="middle" >Feb</text>
<text x="552.2" y="471.3" font-family="'Liberation Sans', Arial, sans-serif" font-size="8" font-weight="normal" fill="#000" text-anchor="middle" >6</text>
<text x="571" y="471.3" font-family="'Liberation Sans', Arial, sans-serif" font-size="8" font-weight="normal" fill="#000" text-anchor="middle" >13</text>
<text x="589.8" y="471.3" font-family="'Liberation Sans', Arial, sans-serif" font-size="8" font-weight="normal" fill="#000" text-anchor="middle" >21</text>
</svg></body></html>
